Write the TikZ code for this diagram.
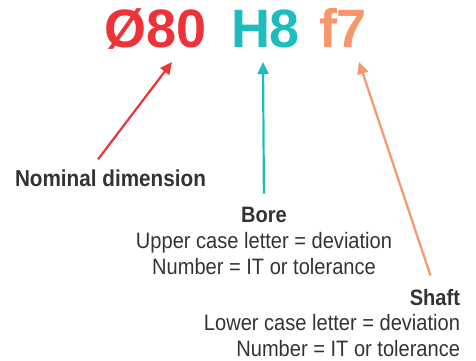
\documentclass[tikz,border=0pt]{standalone}
\usepackage{fontspec}
\setmainfont{Liberation Sans}
\newfontfamily\narrowfont{Liberation Sans}[FakeStretch=0.9]
\usetikzlibrary{arrows.meta}
\definecolor{nomred}{HTML}{EE3338}
\definecolor{boreteal}{HTML}{1FBCBE}
\definecolor{shaftorange}{HTML}{F7956B}
\definecolor{textgray}{HTML}{333333}

\begin{document}
\begin{tikzpicture}[x=1pt,y=-1pt,>={Triangle[length=12pt,width=11pt]}]
			\tikzstyle{every node} = [inner sep=0pt,outer sep=0pt];
			\tikzstyle{code} = [font=\fontsize{54}{54}\selectfont\bfseries,anchor=base west];
			\tikzstyle{head} = [text=textgray,font=\fontsize{22.3}{27}\selectfont\narrowfont\bfseries];
			\tikzstyle{desc} = [text=textgray,font=\fontsize{22.3}{26.5}\selectfont\narrowfont];
			\tikzstyle{arr} = [->,line width=2.2pt];
			\useasboundingbox (0,0) rectangle (476,361);
			\node[code,text=nomred] (d80) at (104,48) {Ø80};
			\node[code,text=boreteal] (h8) at (231,48) {H8};
			\node[code,text=shaftorange] (f7) at (319,48) {f7};
			\node[head,anchor=base west,font=\fontsize{23}{27}\selectfont\narrowfont\bfseries] (nom) at (15,186) {Nominal dimension};
			\node[head,anchor=base] (bore) at (264,222) {Bore};
			\node[desc,anchor=north,align=center] (boredesc) at (264,232) {Upper case letter = deviation\\Number = IT or tolerance};
			\node[head,anchor=base east] (shaft) at (460,305) {Shaft};
			\node[desc,anchor=north east,align=right] (shaftdesc) at (460,314) {Lower case letter = deviation\\Number = IT or tolerance};
			\coordinate (d80tip) at (172,62);
			\coordinate (h8tip) at (263,62);
			\coordinate (f7tip) at (359,62);
			\draw[arr,nomred,shorten <=12.5pt] ([xshift=-20pt]nom.north) -- (d80tip);
			\draw[arr,boreteal,shorten <=13pt] (bore.north) -- (h8tip);
			\draw[arr,shaftorange,shorten <=14pt] (shaft.north) -- (f7tip);
		\end{tikzpicture}
\end{document}
